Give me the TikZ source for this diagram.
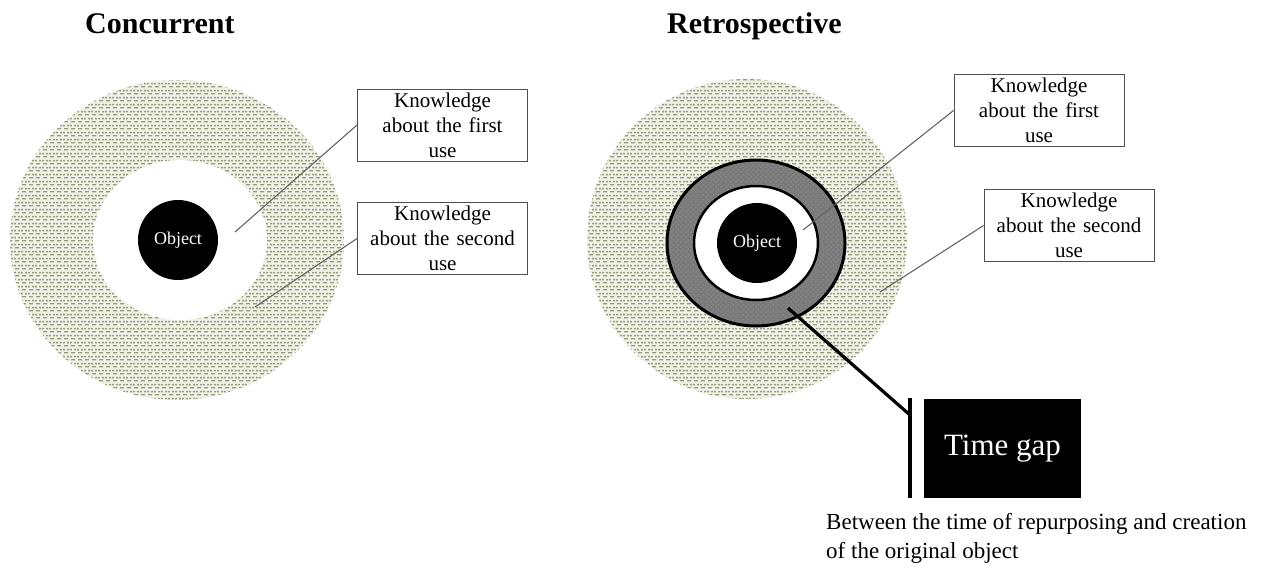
\documentclass[tikz,border=0pt]{standalone}
\usepackage{fontspec}
\setmainfont{Liberation Serif}
\usetikzlibrary{patterns}
\definecolor{patbg}{RGB}{240,241,231}
\definecolor{patdash}{RGB}{150,154,122}
\definecolor{ringgrey}{RGB}{122,122,122}
\definecolor{ringdot}{RGB}{165,165,165}
\definecolor{connc}{RGB}{100,100,100}
\definecolor{boxc}{RGB}{80,80,80}
\pgfdeclarepatternformonly{dashrows}{\pgfpointorigin}{\pgfpoint{7pt}{6.6pt}}{\pgfpoint{7pt}{6.6pt}}{%
  \pgfpathrectangle{\pgfpoint{1.25pt}{0.6pt}}{\pgfpoint{4.5pt}{1.4pt}}%
  \pgfpathrectangle{\pgfpoint{0pt}{3.9pt}}{\pgfpoint{2.25pt}{1.4pt}}%
  \pgfpathrectangle{\pgfpoint{4.75pt}{3.9pt}}{\pgfpoint{2.25pt}{1.4pt}}%
  \pgfusepath{fill}}
\pgfdeclarepatternformonly{ringdots}{\pgfpointorigin}{\pgfpoint{5pt}{5pt}}{\pgfpoint{5pt}{5pt}}{%
  \pgfpathcircle{\pgfpoint{1.2pt}{1.2pt}}{0.7pt}%
  \pgfpathcircle{\pgfpoint{3.7pt}{3.7pt}}{0.7pt}%
  \pgfusepath{fill}}
\tikzset{
  knowbox/.style={draw=boxc, line width=0.9pt, fill=white, text width=166pt, align=center,
    minimum width=170pt, minimum height=72pt, inner sep=2pt,
    font=\fontsize{21}{25}\selectfont},
  objnode/.style={circle, fill=black, minimum size=80pt, inner sep=0pt, text=white,
    font=\fontsize{18}{20}\selectfont},
  conn/.style={draw=connc, line width=1.1pt},
  thickconn/.style={draw=black, line width=3.2pt},
  titletext/.style={font=\fontsize{30}{34}\selectfont\bfseries, inner sep=0pt},
  patfill/.style={pattern=dashrows, pattern color=patdash},
}
\begin{document}
\begin{tikzpicture}[x=1pt, y=-1pt]
\useasboundingbox (0,0) rectangle (1264,568);

% titles
\node[titletext, anchor=base west] (t1) at (85,33) {Concurrent};
\node[titletext, anchor=base west] (t2) at (667,33) {Retrospective};

% ---------- left figure ----------
\fill[patbg] (177,240) ellipse [x radius=167pt, y radius=160pt];
\fill[patfill] (177,240) ellipse [x radius=167pt, y radius=160pt];
\fill[white] (180,240) ellipse [x radius=87pt, y radius=80pt];
\node[objnode] (obj1) at (178,240) {Object};

\node[knowbox] (k1a) at (442.5,125) {Knowledge\\about the first\\use};
\node[knowbox] (k1b) at (442.5,238.5) {Knowledge\\about the second\\use};
\coordinate (s1a) at (235,232);
\coordinate (s1b) at (255,307);
\draw[conn] (s1a) -- (k1a.west);
\draw[conn] (s1b) -- (k1b.west);

% ---------- right figure ----------
\fill[patbg] (747,239) ellipse [x radius=160pt, y radius=160pt];
\fill[patfill] (747,239) ellipse [x radius=160pt, y radius=160pt];
\fill[ringgrey] (756,243) ellipse [x radius=89pt, y radius=83pt];
\fill[pattern=ringdots, pattern color=ringdot] (756,243) ellipse [x radius=89pt, y radius=83pt];
\draw[line width=3pt] (756,243) ellipse [x radius=89pt, y radius=83pt];
\filldraw[fill=white, line width=2.5pt] (756,243) ellipse [x radius=62pt, y radius=57pt];
\node[objnode] (obj2) at (757,243) {Object};

\node[knowbox] (k2a) at (1039,110.5) {Knowledge\\about the first\\use};
\node[knowbox] (k2b) at (1069,225.5) {Knowledge\\about the second\\use};
\coordinate (s2a) at (803,230);
\coordinate (s2b) at (880,292);
\draw[conn] (s2a) -- (k2a.west);
\draw[conn] (s2b) -- (k2b.west);

% time gap
\node[fill=black, minimum width=157pt, minimum height=99pt, inner sep=0pt, text=white,
  font=\fontsize{31}{36}\selectfont] (tg) at (1002.5,448.5) {Time gap};
\coordinate (bartop) at (910,398);
\coordinate (barbot) at (910,498);
\coordinate (barjoin) at (910,415);
\coordinate (ringpt) at (788,308);
\draw[thickconn] (bartop) -- (barbot);
\draw[thickconn] (ringpt) -- (barjoin);
\node[anchor=north west, inner sep=0pt, align=left, font=\fontsize{23}{29}\selectfont] (note) at (826,513)
  {Between the time of repurposing and creation\\of the original object};
\end{tikzpicture}
\end{document}
